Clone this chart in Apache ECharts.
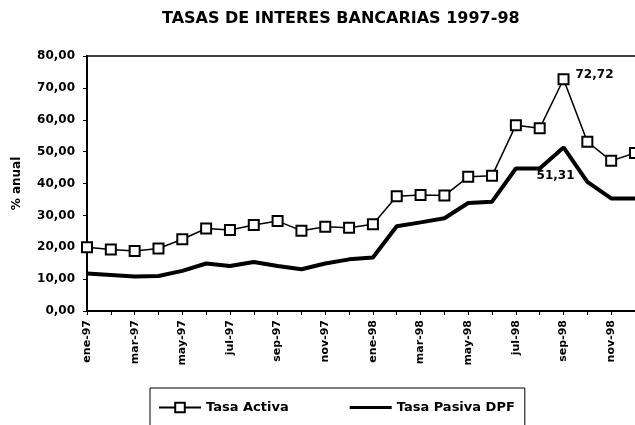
<!DOCTYPE html>
<html>
<head>
<meta charset="utf-8">
<script src="https://cdn.jsdelivr.net/npm/echarts@6/dist/echarts.min.js"></script>
<style>
html,body{margin:0;padding:0;background:#fff;}
#chart{width:635px;height:425px;}
</style>
</head>
<body>
<div id="chart"></div>
<script>
var titleText = 'TASAS DE INTERES BANCARIAS 1997-98';
var categories = ['ene-97','feb-97','mar-97','abr-97','may-97','jun-97','jul-97','ago-97','sep-97','oct-97','nov-97','dic-97',
                  'ene-98','feb-98','mar-98','abr-98','may-98','jun-98','jul-98','ago-98','sep-98','oct-98','nov-98','dic-98'];
var tasaActiva = [20.0, 19.3, 18.8, 19.6, 22.5, 25.9, 25.4, 27.0, 28.2, 25.2, 26.4, 26.1,
                  27.2, 36.0, 36.4, 36.2, 42.1, 42.4, 58.3, 57.3, 72.72, 53.1, 47.1, 49.6];
var tasaPasiva = [11.8, 11.3, 10.8, 11.0, 12.6, 14.9, 14.1, 15.4, 14.1, 13.1, 14.9, 16.2,
                  16.8, 26.6, 27.8, 29.1, 33.9, 34.3, 44.7, 44.7, 51.31, 40.5, 35.3, 35.3];
var seriesNames = ['Tasa Activa', 'Tasa Pasiva DPF'];
var labelledIndex = 20;

var FONT = 'DejaVu Sans';
function fmt(v){ return v.toFixed(2).replace('.', ','); }

var activaData = tasaActiva.map(function(v, i){
  if (i === labelledIndex) {
    return {value: v, label: {show: true, position: 'right', distance: 6, offset: [0, -4],
      formatter: function(p){ return fmt(p.value); },
      color: '#000', fontFamily: FONT, fontWeight: 'bold', fontSize: 12}};
  }
  return v;
});
var pasivaData = tasaPasiva.map(function(v, i){
  if (i === labelledIndex) {
    return {value: v, symbol: 'circle', symbolSize: 1,
      label: {show: true, position: 'bottom', distance: 22, offset: [-8, 0],
      formatter: function(p){ return fmt(p.value); },
      color: '#000', fontFamily: FONT, fontWeight: 'bold', fontSize: 12}};
  }
  return v;
});

var chart = echarts.init(document.getElementById('chart'), null, {renderer: 'canvas'});
chart.setOption({
  animation: false,
  backgroundColor: '#fff',
  title: {
    text: titleText, left: 157, top: 6,
    textStyle: {fontFamily: FONT, fontWeight: 'bold', fontSize: 16, color: '#000'}
  },
  grid: {left: 87, top: 56, right: -2, bottom: 114, show: false, containLabel: false},
  legend: {
    data: [seriesNames[0], {name: seriesNames[1], icon: 'path://M0,0H42V3H0Z'}],
    left: 150, top: 388, orient: 'horizontal', symbolKeepAspect: true,
    padding: [13, 10, 30, 8], itemGap: 61, itemWidth: 42, itemHeight: 12,
    borderColor: '#000', borderWidth: 1, backgroundColor: '#fff',
    textStyle: {fontFamily: FONT, fontWeight: 'bold', fontSize: 13, color: '#000'}
  },
  xAxis: [{
    type: 'category', data: categories, boundaryGap: false,
    axisLine: {lineStyle: {color: '#000', width: 2}},
    axisTick: {interval: 0, length: 4, lineStyle: {color: '#000'}},
    axisLabel: {interval: 1, rotate: 90, margin: 9, color: '#000', fontFamily: FONT, fontWeight: 'bold', fontSize: 11},
    splitLine: {show: false}
  }, {
    type: 'category', data: categories, boundaryGap: false, position: 'top',
    axisLine: {show: true, onZero: false, lineStyle: {color: '#000', width: 1.5}},
    axisTick: {show: false}, axisLabel: {show: false}, splitLine: {show: false}
  }],
  yAxis: {
    type: 'value', min: 0, max: 80, interval: 10,
    name: '% anual', nameLocation: 'middle', nameGap: 64, nameRotate: 90,
    nameTextStyle: {fontFamily: FONT, fontWeight: 'bold', fontSize: 12, color: '#000'},
    axisLine: {show: true, lineStyle: {color: '#000', width: 2}},
    axisTick: {show: true, length: 4, lineStyle: {color: '#000'}},
    axisLabel: {margin: 12, color: '#000', fontFamily: FONT, fontWeight: 'bold', fontSize: 12,
      formatter: function(v){ return fmt(v); }},
    splitLine: {show: false}
  },
  series: [
    {
      name: seriesNames[0], type: 'line', data: activaData,
      symbol: 'rect', symbolSize: 10, showSymbol: true, clip: false,
      lineStyle: {color: '#000', width: 1.5},
      itemStyle: {color: '#fff', borderColor: '#000', borderWidth: 2},
      z: 3
    },
    {
      name: seriesNames[1], type: 'line', data: pasivaData,
      symbol: 'none', showSymbol: true, clip: false,
      lineStyle: {color: '#000', width: 4},
      itemStyle: {color: '#000'},
      z: 2
    }
  ]
});
</script>
</body>
</html>
